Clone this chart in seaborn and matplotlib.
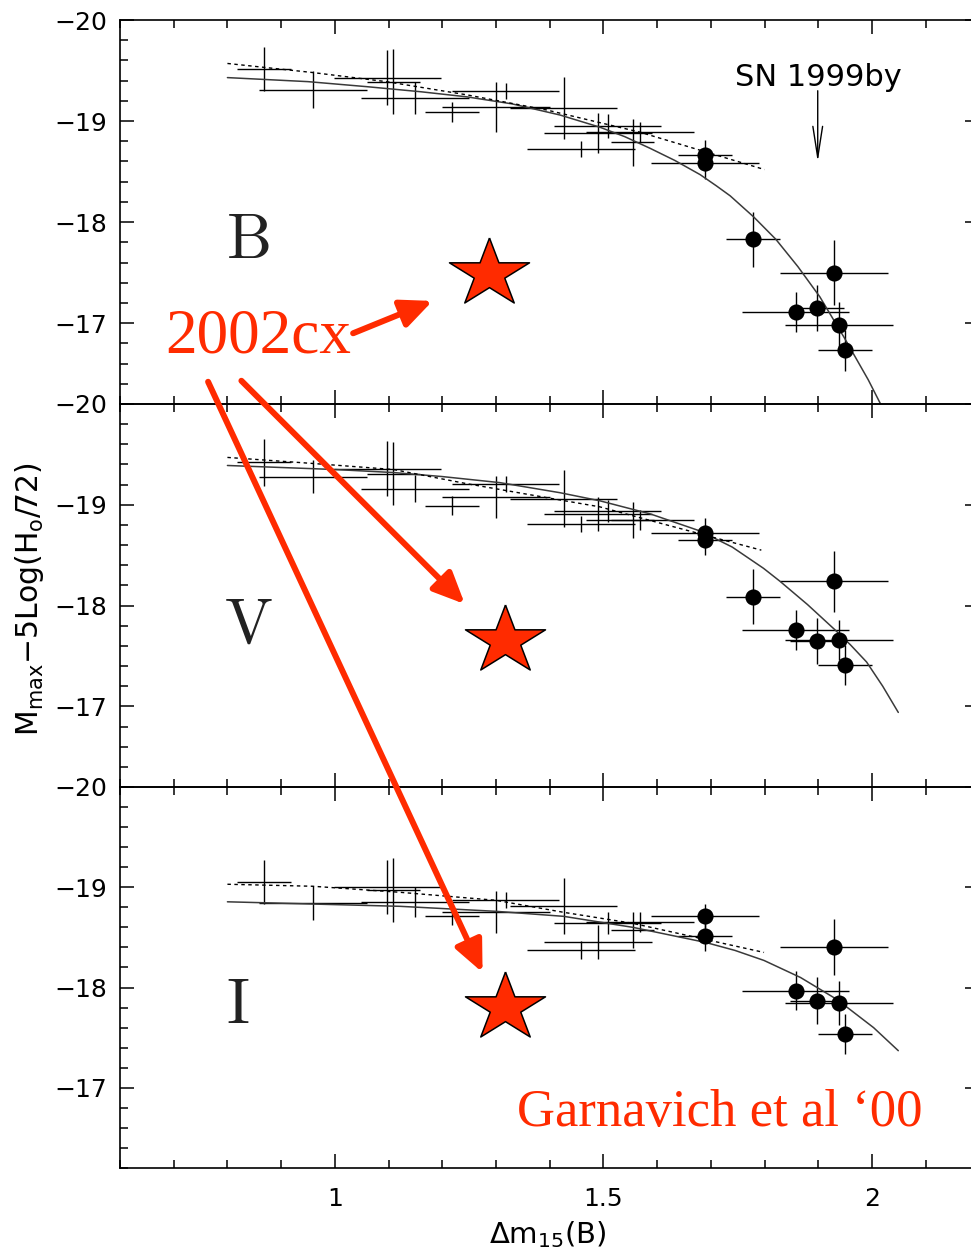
import numpy as np
import pandas as pd
import matplotlib
matplotlib.use("Agg")
import matplotlib.pyplot as plt
import seaborn as sns
from matplotlib.patches import ConnectionPatch
from matplotlib.ticker import MultipleLocator

# ---------------- data ----------------
bands = ["B", "V", "I"]

# slow decliners (open error crosses), shared delta m15 values
cross_dm15 = [0.868, 0.959, 1.098, 1.109, 1.149, 1.218, 1.300, 1.318, 1.426, 1.458, 1.490, 1.508, 1.555, 1.568]
cross_dm15_err = [0.05, 0.10, 0.10, 0.05, 0.10, 0.05, 0.10, 0.10, 0.10, 0.10, 0.10, 0.10, 0.04, 0.10]
cross_mag_B = [-19.515, -19.31, -19.43, -19.39, -19.23, -19.09, -19.14, -19.30, -19.13, -18.72, -18.88, -18.95, -18.79, -18.89]
cross_err_B = [0.22, 0.185, 0.27, 0.32, 0.16, 0.10, 0.25, 0.08, 0.31, 0.08, 0.20, 0.12, 0.23, 0.10]
cross_mag_V = [-19.42, -19.28, -19.36, -19.31, -19.16, -18.99, -19.08, -19.21, -19.06, -18.81, -18.91, -18.94, -18.85, -18.85]
cross_err_V = [0.23, 0.16, 0.275, 0.31, 0.135, 0.095, 0.21, 0.08, 0.285, 0.08, 0.17, 0.11, 0.18, 0.10]
cross_mag_I = [-19.055, -18.84, -19.005, -18.975, -18.85, -18.71, -18.75, -18.87, -18.81, -18.37, -18.45, -18.64, -18.57, -18.65]
cross_err_I = [0.22, 0.17, 0.27, 0.32, 0.15, 0.09, 0.21, 0.08, 0.28, 0.09, 0.17, 0.11, 0.18, 0.10]

# fast decliners (filled circles)
fast_dm15 = [1.689, 1.689, 1.779, 1.929, 1.858, 1.898, 1.939, 1.950]
fast_dm15_err = [0.05, 0.10, 0.05, 0.10, 0.10, 0.05, 0.10, 0.05]
fast_mag_B = [-18.66, -18.58, -17.83, -17.50, -17.11, -17.15, -16.98, -16.73]
fast_err_B = [0.15, 0.15, 0.27, 0.32, 0.20, 0.23, 0.23, 0.20]
fast_mag_V = [-18.65, -18.72, -18.09, -18.24, -17.76, -17.65, -17.66, -17.41]
fast_err_V = [0.15, 0.15, 0.27, 0.30, 0.20, 0.23, 0.20, 0.20]
fast_mag_I = [-18.51, -18.71, np.nan, -18.40, -17.97, -17.87, -17.85, -17.54]
fast_err_I = [0.15, 0.12, np.nan, 0.28, 0.19, 0.23, 0.22, 0.20]

# fitted relations
solid_B_x = [0.80, 0.95, 1.06, 1.16, 1.245, 1.33, 1.419, 1.493, 1.54, 1.587, 1.633, 1.68, 1.71, 1.736,
             1.78, 1.821, 1.862, 1.903, 1.948, 1.993, 2.016]
solid_B_y = [-19.43, -19.39, -19.34, -19.29, -19.24, -19.17, -19.06, -18.94, -18.845, -18.73, -18.61, -18.47,
             -18.36, -18.26, -18.05, -17.83, -17.56, -17.26, -16.86, -16.44, -16.20]
solid_V_x = [0.80, 1.0, 1.109, 1.20, 1.307, 1.419, 1.493, 1.587, 1.68, 1.74, 1.798, 1.829, 1.88, 1.931,
             1.96, 1.99, 2.02, 2.049]
solid_V_y = [-19.39, -19.35, -19.32, -19.28, -19.22, -19.12, -19.04, -18.91, -18.74, -18.58, -18.37, -18.24,
             -18.01, -17.76, -17.61, -17.44, -17.20, -16.94]
solid_I_x = [0.80, 1.121, 1.30, 1.426, 1.555, 1.69, 1.745, 1.799, 1.867, 1.935, 2.003, 2.049]
solid_I_y = [-18.855, -18.81, -18.76, -18.71, -18.60, -18.45, -18.37, -18.27, -18.10, -17.88, -17.60, -17.37]
dash_B_x = [0.80, 0.959, 1.096, 1.245, 1.394, 1.568, 1.80]
dash_B_y = [-19.57, -19.48, -19.39, -19.26, -19.11, -18.89, -18.52]
dash_V_x = [0.80, 0.959, 1.109, 1.245, 1.406, 1.493, 1.618, 1.794]
dash_V_y = [-19.47, -19.41, -19.35, -19.21, -19.06, -18.98, -18.80, -18.55]
dash_I_x = [0.80, 0.959, 1.121, 1.30, 1.426, 1.555, 1.799]
dash_I_y = [-19.03, -19.01, -18.95, -18.87, -18.75, -18.64, -18.35]

# SN 2002cx
star_dm15 = [1.287, 1.317, 1.317]
star_mag = [-17.53, -17.69, -17.84]

xtick_values = [1, 1.5, 2]
xtick_labels = ["1", "1.5", "2"]
ytick_values = [-20, -19, -18, -17]
ytick_labels = ["\u221220", "\u221219", "\u221218", "\u221217"]

# ---------------- tables ----------------
cross_df = pd.DataFrame({
    "band": np.repeat(bands, len(cross_dm15)),
    "dm15": cross_dm15 * 3, "dm15_err": cross_dm15_err * 3,
    "mag": cross_mag_B + cross_mag_V + cross_mag_I,
    "err": cross_err_B + cross_err_V + cross_err_I,
})
fast_df = pd.DataFrame({
    "band": np.repeat(bands, len(fast_dm15)),
    "dm15": fast_dm15 * 3, "dm15_err": fast_dm15_err * 3,
    "mag": fast_mag_B + fast_mag_V + fast_mag_I,
    "err": fast_err_B + fast_err_V + fast_err_I,
}).dropna()
solid = {"B": (solid_B_x, solid_B_y), "V": (solid_V_x, solid_V_y), "I": (solid_I_x, solid_I_y)}
dashed = {"B": (dash_B_x, dash_B_y), "V": (dash_V_x, dash_V_y), "I": (dash_I_x, dash_I_y)}

# ---------------- style ----------------
sns.set_style("ticks")
plt.rcParams["font.family"] = ["DejaVu Sans"]
plt.rcParams["axes.linewidth"] = 1.2
plt.rcParams["text.color"] = "black"
plt.rcParams["axes.labelcolor"] = "black"

RED = "#ff2b00"
W, H = 971, 1255
fig = plt.figure(figsize=(W / 100, H / 100), dpi=100)
left = 120 / W
width = 859.4 / W
panel_px = [(20, 404), (404, 787), (787, 1168)]
axes = []
for top, bot in panel_px:
    ax = fig.add_axes([left, (H - bot) / H, width, (bot - top) / H])
    ax.set_facecolor("none")
    axes.append(ax)

# star marker (slightly flattened, centred on its bounding box)
ang_out = np.deg2rad(90 + 72 * np.arange(5))
ang_in = ang_out + np.deg2rad(36)
pts = []
for ao, ai in zip(ang_out, ang_in):
    pts.append((np.cos(ao), np.sin(ao)))
    pts.append((0.382 * np.cos(ai), 0.382 * np.sin(ai)))
pts.append(pts[0])
verts = np.array(pts)
verts[:, 1] *= 0.854
verts[:, 1] -= (verts[:, 1].max() + verts[:, 1].min()) / 2

for k, (ax, band) in enumerate(zip(axes, bands)):
    cd = cross_df[cross_df.band == band]
    ax.errorbar(cd.dm15, cd.mag, xerr=cd.dm15_err, yerr=cd.err, fmt="none",
                ecolor="black", elinewidth=1.0, capsize=0, zorder=2)
    fd = fast_df[fast_df.band == band]
    ax.errorbar(fd.dm15, fd.mag, xerr=fd.dm15_err, yerr=fd.err, fmt="none",
                ecolor="black", elinewidth=1.0, capsize=0, zorder=2)
    sns.scatterplot(data=fd, x="dm15", y="mag", ax=ax, s=135, color="black",
                    linewidth=0, zorder=3, legend=False)
    sx, sy = solid[band]
    sns.lineplot(x=sx, y=sy, ax=ax, color="#3a3a3a", linewidth=1.1,
                 sort=False, estimator=None, zorder=2)
    dx, dy = dashed[band]
    sns.lineplot(x=dx, y=dy, ax=ax, color="black", linewidth=1.0,
                 linestyle=(0, (2.5, 2.5)), sort=False, estimator=None, zorder=2)
    sns.scatterplot(x=[star_dm15[k]], y=[star_mag[k]], ax=ax, marker=verts, s=57.6 ** 2,
                    color=RED, edgecolor="black", linewidth=1.1, zorder=6, legend=False)

    ax.set_xlim(0.6, 2.2)
    ax.set_ylim(-16.2, -20)
    ax.set_xlabel("")
    ax.set_ylabel("")
    ax.set_xticks(xtick_values, labels=xtick_labels)
    ax.xaxis.set_minor_locator(MultipleLocator(0.1))
    ax.set_yticks(ytick_values, labels=ytick_labels)
    ax.yaxis.set_minor_locator(MultipleLocator(0.2))
    ax.tick_params(which="both", direction="in", top=True, right=True, width=1.1,
                   colors="black", labelcolor="black")
    ax.tick_params(which="major", length=10)
    ax.tick_params(which="minor", length=5.8)
    ax.tick_params(axis="y", labelsize=18, pad=9)
    ax.tick_params(axis="x", labelsize=18, pad=14)
    if k < 2:
        ax.tick_params(labelbottom=False)
    for sp in ax.spines.values():
        sp.set_visible(True)
        sp.set_color("black")

    ax.text([0.838, 0.838, 0.820][k], [-17.82, -17.81, -17.83][k], r"$\mathrm{%s}$" % band,
            math_fontfamily="cm", fontsize=46, ha="center", va="center", color="#222222")

axB, axV, axI = axes
axI.set_xlabel(r"$\Delta$m$_{15}$(B)", fontsize=21)
axI.xaxis.set_label_coords(0.498, -0.135)
axV.set_ylabel("M$_{\\rm max}$\u22125Log(H$_{\\rm o}$/72)", fontsize=21.5)
axV.yaxis.set_label_coords(-0.086, 0.49)

# SN 1999by marker
axB.text(1.9, -19.35, "SN 1999by", ha="center", va="baseline", fontsize=22, color="black")
axB.annotate("", xy=(1.899, -18.595), xytext=(1.899, -19.30),
             arrowprops=dict(arrowstyle="->,head_length=1.6,head_width=0.25", lw=1.0,
                             color="black", shrinkA=0, shrinkB=0, mutation_scale=14))

# SN 2002cx annotations
axB.text(0.685, -16.71, "2002cx", color=RED, fontsize=45.5, family="Liberation Serif",
         ha="left", va="baseline", zorder=7)
axI.text(1.339, -16.62, "Garnavich et al \u201800", color=RED, fontsize=38,
         family="Liberation Serif", ha="left", va="baseline", zorder=7)

arrows = [
    ((1.034, -16.90), axB, (1.182, -17.22), axB),
    ((0.826, -16.43), axB, (1.242, -18.015), axV),
    ((0.764, -16.42), axB, (1.275, -18.15), axI),
]
for (pa, axa, pb, axb) in arrows:
    con = ConnectionPatch(xyA=pa, coordsA=axa.transData, xyB=pb, coordsB=axb.transData,
                          arrowstyle="-|>,head_length=1.0,head_width=0.45", mutation_scale=19,
                          lw=4.3, color=RED, shrinkA=0, shrinkB=0, zorder=8)
    fig.add_artist(con)

fig.savefig("out.png", dpi=100)
